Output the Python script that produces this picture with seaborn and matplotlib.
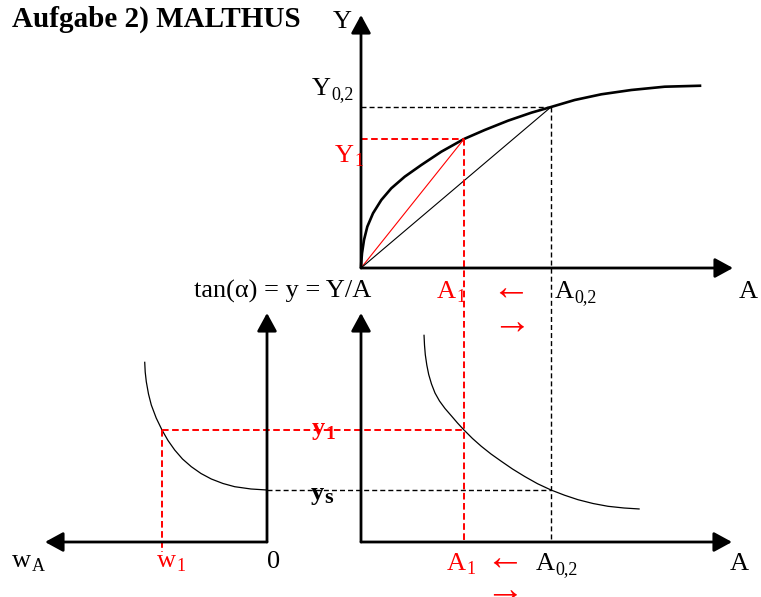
import numpy as np
import matplotlib.pyplot as plt
import seaborn as sns

sns.set_style("white")
plt.rcParams['font.family'] = ['Liberation Serif', 'DejaVu Sans']

# top panel: production curve Y(A), units measured from the panel origin
A_top = [0, 0.3, 1, 3, 6.3, 12, 20.3, 30.3, 43.7, 60.3, 80.3, 103, 123.7, 147,
         170.3, 190, 213.7, 240.3, 270.3, 303.7, 340.3]
Y_top = [0, 6, 14.7, 28, 41.3, 54.7, 68, 79.7, 91.3, 103, 116.3, 129, 138, 147.3,
         155.3, 161, 168, 173.7, 178, 181.3, 182.3]
A1, A02 = 103, 190
Y1, Y02 = 129, 161

# bottom right: income per head y = Y/A over A
A_bot = [63, 63.5, 64.3, 65.8, 67.7, 70.5, 74, 78.5, 84, 90.5, 96.5, 103, 111.5,
         120.3, 130, 140.3, 151.5, 163.7, 176.5, 190, 203.5, 217, 232, 247, 263, 278.7]
y_bot = [207.3, 197, 187.3, 177, 167.5, 158, 149, 141, 133.5, 126, 119, 112, 103.5,
         95.7, 88, 80.7, 73, 65.5, 58.3, 52, 46.8, 42.3, 38.5, 35.7, 34, 33]
y1, ys = 112, 52

# bottom left: wage w_A over y (w grows to the left)
w_left = [122.3, 121.8, 120.7, 118.5, 115.7, 110.8, 105, 99, 92.3, 84.5, 75.7, 66,
          55.7, 44, 32.3, 16, 0]
y_left = [180.3, 170, 160.3, 148, 137, 124, 112, 101.5, 92, 83, 75.3, 68.5,
          63, 58.5, 55.3, 53, 52]
w1 = 105

# panel origins on the canvas
TOP = (361, 268)
BR = (361, 542)
BL = (267, 542)
RED = '#ff0000'

fig = plt.figure(figsize=(7.61, 5.97), dpi=100)
ax = fig.add_axes([0, 0, 1, 1])
ax.set_xlim(0, 761)
ax.set_ylim(597, 0)
ax.axis('off')


def arrow(x0, y0, x1, y1):
    ax.annotate('', xy=(x1, y1), xytext=(x0, y0),
                arrowprops=dict(arrowstyle='-|>,head_length=0.55,head_width=0.3',
                                mutation_scale=20, lw=2, color='black',
                                shrinkA=0, shrinkB=0))


# axes of the three panels
arrow(TOP[0], TOP[1], TOP[0], 15)
arrow(TOP[0], TOP[1], 733, TOP[1])
arrow(BR[0], BR[1], BR[0], 313)
arrow(BR[0], BR[1], 732, BR[1])
arrow(BL[0], BL[1], BL[0], 313)
arrow(BL[0], BL[1], 45, BL[1])

blk_dash = dict(color='black', lw=1, ls=(0, (3.6, 2.2)))
red_dash = dict(color=RED, lw=1.4, ls=(0, (3.4, 1.8)))
curve_kw = dict(sort=False, estimator=None, color='black', ax=ax,
                solid_joinstyle='round', solid_capstyle='butt')

# top panel
sns.lineplot(x=TOP[0] + np.array(A_top), y=TOP[1] - np.array(Y_top), lw=1.9, **curve_kw)
ax.plot([TOP[0], TOP[0] + A1], [TOP[1], TOP[1] - Y1], color=RED, lw=0.8)
ax.plot([TOP[0], TOP[0] + A02], [TOP[1], TOP[1] - Y02], color='black', lw=0.8)
ax.plot([TOP[0], TOP[0] + A1], [TOP[1] - Y1] * 2, **red_dash)
ax.plot([TOP[0], TOP[0] + A02], [TOP[1] - Y02] * 2, **blk_dash)
ax.plot([TOP[0] + A1] * 2, [TOP[1] - Y1, BR[1]], **red_dash)
ax.plot([TOP[0] + A02] * 2, [TOP[1] - Y02, BR[1]], **blk_dash)

# bottom right panel
sns.lineplot(x=BR[0] + np.array(A_bot), y=BR[1] - np.array(y_bot), lw=0.9, **curve_kw)

# bottom left panel
sns.lineplot(x=BL[0] - np.array(w_left), y=BL[1] - np.array(y_left), lw=0.9, **curve_kw)
ax.plot([BL[0] - w1, BR[0] + A1], [BL[1] - y1] * 2, **red_dash)
ax.plot([BL[0], BR[0] + A02], [BL[1] - ys] * 2, **blk_dash)
ax.plot([BL[0] - w1] * 2, [BL[1] - y1, BL[1] + 10], **red_dash)


def txt(x, y, s, color='black', size=19, weight='normal', sub=None, subsize=13, **kw):
    t = ax.text(x, y, s, color=color, fontsize=size, fontweight=weight,
                ha=kw.pop('ha', 'left'), va=kw.pop('va', 'baseline'), **kw)
    if sub:
        # subscript glued to the right edge of the main letter
        ax.annotate(sub, xy=(1, 0), xycoords=t, xytext=(0.3, -2.0),
                    textcoords='offset points', ha='left', va='bottom',
                    color=color, fontsize=subsize, fontweight=weight)
    return t


def arr(x, y, s):
    ax.text(x, y, s, color=RED, fontsize=28, ha='center', va='baseline')


txt(12, 27, 'Aufgabe 2) MALTHUS', size=21, weight='bold')
txt(333, 28, 'Y')
txt(312, 95, 'Y', sub='0,2')
txt(335, 162, 'Y', RED, sub='1')
txt(194, 298, 'tan(α) = y = Y/A')
txt(437, 298, 'A', RED, sub='1')
arr(511, 300, '←')
txt(555, 298, 'A', sub='0,2')
txt(739, 298, 'A')
arr(512, 334, '→')

txt(312, 435, 'y', RED, weight='bold', sub='1', subsize=14)
txt(311, 500, 'y', weight='bold', sub='s', subsize=16)
txt(12, 567, 'w', sub='A')
txt(157, 567, 'w', RED, sub='1')
txt(267, 568, '0')
txt(447, 570, 'A', RED, sub='1')
arr(505, 570, '←')
txt(536, 570, 'A', sub='0,2')
txt(730, 570, 'A')
arr(505, 602, '→')

fig.savefig('out.png', dpi=100)
